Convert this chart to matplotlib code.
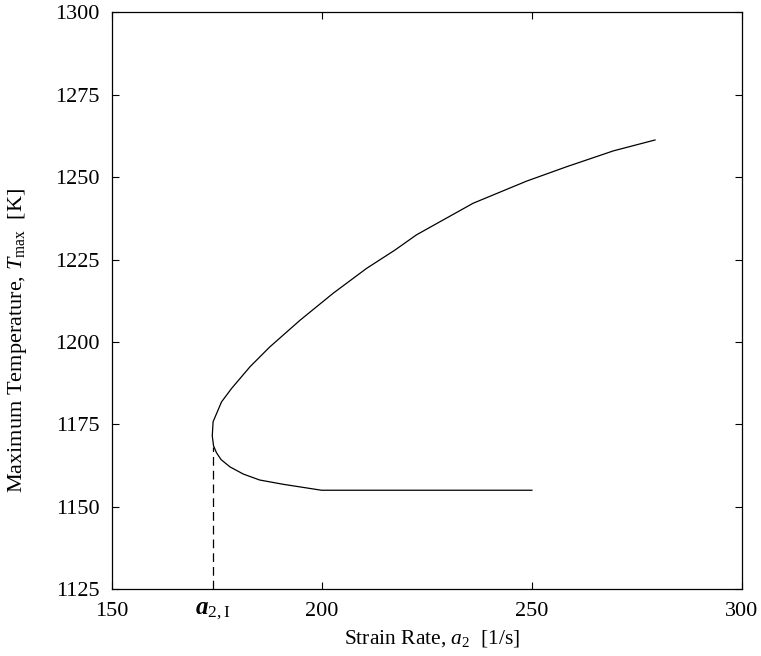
import matplotlib
matplotlib.use("Agg")
import matplotlib.pyplot as plt

plt.rcParams['font.family'] = ['Liberation Serif', 'DejaVu Serif']
plt.rcParams['mathtext.fontset'] = 'custom'
plt.rcParams['mathtext.rm'] = 'Liberation Serif'
plt.rcParams['mathtext.it'] = 'Liberation Serif:italic'
plt.rcParams['mathtext.bf'] = 'Liberation Serif:italic:bold'

# curve traced along its path: flat lower end -> turning point -> upper branch
strain_rate = [250.0, 199.9, 190.8, 185.2, 181.3, 178.1, 176.0, 174.9, 174.2, 173.9,
               174.1, 176.1, 178.5, 182.9, 187.6, 194.8, 202.7, 210.6, 217.4,
               222.5, 236.0, 248.7, 258.3, 269.4, 279.3]
t_max = [1155.0, 1155.0, 1156.8, 1158.1, 1159.9, 1162.1, 1164.3, 1166.4, 1168.5, 1171.5,
         1175.8, 1181.8, 1185.9, 1192.5, 1198.5, 1206.6, 1214.8, 1222.3, 1227.9,
         1232.5, 1242.1, 1248.8, 1253.2, 1258.0, 1261.3]

a2_crit = 174.0
t_crit = 1168.0

x_ticks = [150, 200, 250, 300]
y_ticks = [1125, 1150, 1175, 1200, 1225, 1250, 1275, 1300]

fig = plt.figure(figsize=(7.61, 6.56), dpi=100)
ax = fig.add_axes([0.147, 0.102, 0.828, 0.879])

ax.plot(strain_rate, t_max, color='black', lw=0.9)
ax.plot([a2_crit, a2_crit], [1125, t_crit], color='black', lw=0.9, dashes=(7, 4))

ax.set_xlim(150, 300)
ax.set_ylim(1125, 1300)
ax.set_xticks(x_ticks)
ax.set_yticks(y_ticks)
ax.tick_params(direction='in', length=5, width=0.8, top=True, right=True,
               labelsize=16, pad=9)
for s in ax.spines.values():
    s.set_linewidth(0.9)

ax.text(a2_crit, -0.019, r'$\mathbf{a}_{\mathrm{2,I}}$', transform=ax.get_xaxis_transform(),
        ha='center', va='top', fontsize=18)

ax.set_xlabel(r'Strain Rate, $a_2$  [1/s]', fontsize=15.5)
ax.set_ylabel(r'Maximum Temperature, $T_{\mathrm{max}}$  [K]', fontsize=16)
ax.xaxis.set_label_coords(0.508, -0.068)
ax.yaxis.set_label_coords(-0.132, 0.432)

fig.savefig('out.png', dpi=100)
